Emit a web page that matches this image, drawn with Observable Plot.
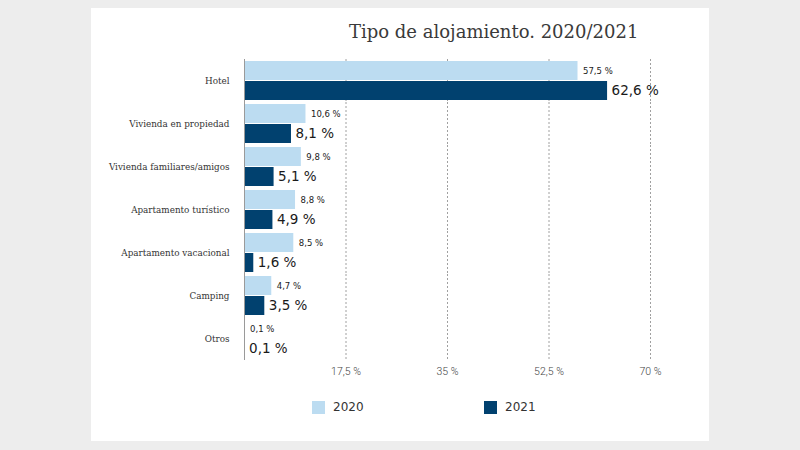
<!DOCTYPE html>
<html>
<head>
<meta charset="utf-8">
<script src="https://cdn.jsdelivr.net/npm/d3@7"></script>
<script src="https://cdn.jsdelivr.net/npm/@observablehq/plot@0.6"></script>
<style>
  html, body { margin: 0; padding: 0; background: #ededed; width: 800px; height: 450px; overflow: hidden; }
  #panel { position: absolute; left: 91px; top: 8px; width: 618px; height: 433px; background: #fff; }
  #chart { position: absolute; left: 0; top: 0; }
  #title { position: absolute; left: 258px; top: 13px; font-family: "DejaVu Serif", serif; font-size: 18px; color: #3a3a3a; line-height: 22px; white-space: nowrap; }
  .leg { position: absolute; top: 392px; display: flex; align-items: center; font-family: "DejaVu Sans", sans-serif; font-size: 12px; color: #333; }
  .leg .sw { width: 13px; height: 13px; margin-right: 8px; }
</style>
</head>
<body>
<div id="panel">
  <div id="chart"></div>
  <div id="title">Tipo de alojamiento. 2020/2021</div>
</div>
<script>
const categories = ["Hotel", "Vivienda en propiedad", "Vivienda familiares/amigos", "Apartamento turístico", "Apartamento vacacional", "Camping", "Otros"];
const years = ["2020", "2021"];
const values2020 = [57.5, 10.6, 9.8, 8.8, 8.5, 4.7, 0.1];
const values2021 = [62.6, 8.1, 5.1, 4.9, 1.6, 3.5, 0.1];
const xTicks = [17.5, 35, 52.5, 70];
const colors = ["#bcdcf1", "#01416f"];

const data = [];
categories.forEach((c, i) => {
  data.push({cat: c, year: "2020", value: values2020[i]});
  data.push({cat: c, year: "2021", value: values2021[i]});
});
const fmt = v => v.toFixed(1).replace(".", ",") + " %";
const tickFmt = v => String(v).replace(".", ",") + " %";

const plot = Plot.plot({
  width: 618,
  height: 433,
  marginLeft: 153,
  marginRight: 59,
  marginTop: 48,
  marginBottom: 79,
  style: {background: "transparent"},
  x: {domain: [0, 70], axis: null},
  y: {domain: years, axis: null, paddingInner: 0.05, paddingOuter: 0.1},
  fy: {domain: categories, padding: 0, axis: null},
  color: {domain: years, range: colors},
  marks: [
    Plot.ruleX(xTicks, {stroke: "#a0a0a0", strokeWidth: 1, strokeDasharray: "2,2"}),
    Plot.barX(data, {fy: "cat", y: "year", x: "value", fill: "year"}),
    Plot.ruleX([0], {stroke: "#9a9a9a", strokeWidth: 1}),
    Plot.text(data.filter(d => d.year === "2020"), {fy: "cat", y: "year", x: "value", text: d => fmt(d.value), dx: 5, textAnchor: "start", fontFamily: "DejaVu Sans, sans-serif", fontSize: 8.5, fill: "#1a1a1a"}),
    Plot.text(data.filter(d => d.year === "2021"), {fy: "cat", y: "year", x: "value", text: d => fmt(d.value), dx: 4, textAnchor: "start", fontFamily: "DejaVu Sans, sans-serif", fontSize: 13.5, fill: "#1a1a1a"}),
    Plot.axisFy({anchor: "left", tickSize: 0, tickPadding: 15, label: null, fontFamily: "DejaVu Serif, serif", fontSize: 8.8, color: "#333"}),
    Plot.axisX({ticks: xTicks, tickSize: 0, tickPadding: 7, tickFormat: tickFmt, label: null, fontFamily: "Roboto, sans-serif", fontWeight: 300, fontSize: 10.5, color: "#444"})
  ]
});
document.getElementById("chart").appendChild(plot);

const panel = document.getElementById("panel");
const legX = [221, 393];
years.forEach((y, i) => {
  const el = document.createElement("div");
  el.className = "leg";
  el.style.left = legX[i] + "px";
  el.innerHTML = `<div class="sw" style="background:${colors[i]}"></div><span>${y}</span>`;
  panel.appendChild(el);
});
</script>
</body>
</html>
